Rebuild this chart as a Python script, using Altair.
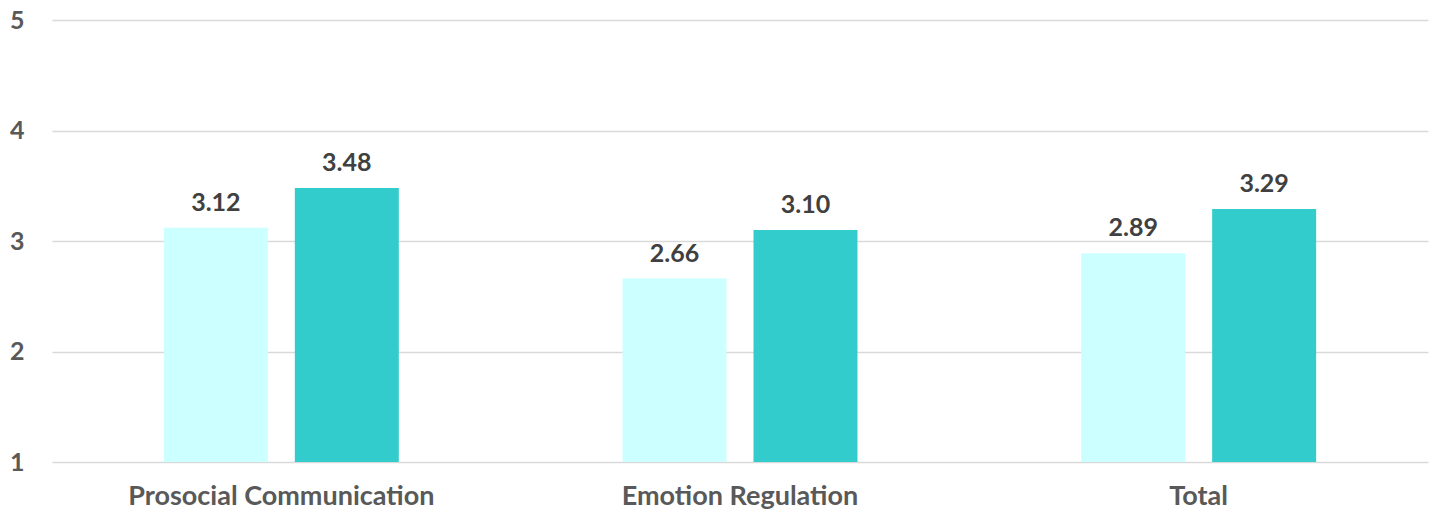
import altair as alt
import pandas as pd

categories = ["Prosocial Communication", "Emotion Regulation", "Total"]
series = ["Pre", "Post"]
pre_values = [3.12, 2.66, 2.89]
post_values = [3.48, 3.10, 3.29]
colors = ["#CCFFFF", "#33CCCC"]

rows = []
for c, a, b in zip(categories, pre_values, post_values):
    rows.append({"category": c, "series": "Pre", "value": a, "label": f"{a:.2f}"})
    rows.append({"category": c, "series": "Post", "value": b, "label": f"{b:.2f}"})
df = pd.DataFrame(rows)

FONT = "Lato"

x = alt.X("category:N", sort=categories, title=None,
          scale=alt.Scale(paddingInner=0, paddingOuter=0),
          axis=alt.Axis(labelAngle=0, labelFont=FONT, labelFontSize=27, labelFontWeight="bold",
                        labelColor="#595959", labelPadding=21, labelLimit=0,
                        ticks=False, domain=False))
xo = alt.XOffset("series:N", sort=series,
                 scale=alt.Scale(paddingInner=0.206, paddingOuter=0.854))
y = alt.Y("value:Q", title=None,
          scale=alt.Scale(domain=[1, 5], nice=False, zero=False),
          axis=alt.Axis(values=[1, 2, 3, 4, 5], format="d", labelFont=FONT, labelFontSize=25,
                        labelFontWeight="bold", labelColor="#595959", labelPadding=28,
                        ticks=False, domain=False, gridColor="#D9D9D9", gridWidth=1.5))

base = alt.Chart(df)
bars = base.mark_bar().encode(
    x=x, xOffset=xo, y=y, y2=alt.datum(1),
    color=alt.Color("series:N", sort=series, legend=None,
                    scale=alt.Scale(domain=series, range=colors)),
)
labels = base.mark_text(baseline="bottom", dy=-12, font=FONT, fontSize=25,
                        fontWeight="bold", color="#404040").encode(
    x=x, xOffset=xo, y=y, text="label:N")

chart = (bars + labels).properties(
    width=1376, height=442,
    autosize=alt.AutoSizeParams(type="none"),
    padding={"left": 52, "top": 20, "right": 7, "bottom": 50},
).configure_view(stroke=None)

chart.save("out.html", embed_options={"renderer": "svg", "actions": False})
